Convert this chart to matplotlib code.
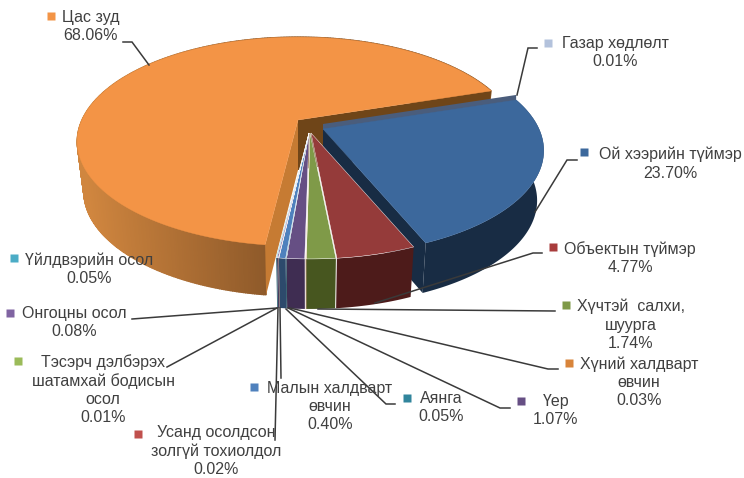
import numpy as np
import matplotlib
matplotlib.use("Agg")
import matplotlib.pyplot as plt
from matplotlib.colors import to_rgb

names = ["Газар хөдлөлт", "Ой хээрийн түймэр", "Объектын түймэр", "Хүчтэй  салхи,\nшуурга",
         "Хүний халдварт\nөвчин", "Үер", "Аянга", "Малын халдварт\nөвчин",
         "Усанд осолдсон\nзолгүй тохиолдол", "Тэсэрч дэлбэрэх\nшатамхай бодисын\nосол",
         "Онгоцны осол", "Үйлдвэрийн осол", "Цас зуд"]
values = [0.01, 23.70, 4.77, 1.74, 0.03, 1.07, 0.05, 0.40, 0.02, 0.01, 0.08, 0.05, 68.06]

top_colors = ["#4a5d7c", "#3c689c", "#953b3a", "#7f9a48", "#d8843a", "#664f84", "#31859c",
              "#4f81bd", "#c0504d", "#9bbb59", "#8064a2", "#4bacc6", "#f39446"]
wall_colors = ["#4a5d7c", "#182c44", "#4d1b1a", "#47561f", "#8a4d1c", "#3f2d52", "#1c4d5c",
               "#2d4a6c", "#6e2e2c", "#5a6d33", "#4a3a5e", "#2b6373", "#b06c2c"]
key_colors = ["#b3c2dc", "#3c689c", "#a83c3c", "#7f9a48", "#d8843a", "#664f84", "#31859c",
              "#4f81bd", "#c0504d", "#9bbb59", "#8064a2", "#4bacc6", "#f39446"]
# slice shift from the pie centre, pixels
shift_x = [13, 13, 1, 0, 0, -1, -1, -1, -1, -1, -1, -1, -12]
shift_y = [-9, -4, 0, 0, 0, 0, 0, 0, 0, 0, 0, 0, -13]

# label layout: square x, y, then text centre x and first line y
key_x = [548, 584, 553, 566, 569, 521, 407, 254, 138, 18, 10, 14, 51]
key_y = [43, 152, 247, 305, 363, 401, 398, 387, 434, 361, 313, 258, 16]
text_x = [615, 670, 630, 631, 639, 556, 441, 330, 216, 103, 74, 89, 91]
text_y = [43, 154, 248, 306, 363, 401, 398, 388, 432, 361, 313, 259, 17]
leaders = [
    [(537, 48), (528, 48), (517, 95)],
    [(577, 160), (567, 160), (535, 212)],
    [(542, 253), (533, 253), (375, 303)],
    [(555, 311), (318, 309)],
    [(558, 369), (548, 369), (290, 308)],
    [(510, 408), (500, 408), (288, 308)],
    [(395, 404), (386, 404), (286, 309)],
    [(281, 378), (280, 308)],
    [(275, 440), (278, 308)],
    [(167, 367), (277, 308)],
    [(132, 319), (277, 308)],
    [],
    [(123, 42), (132, 42), (149, 65)],
]

start_angle = 72
cx, cy = 310, 133
rx, ry = 216, 100
persp = 0.206
depth = 50


def project(theta, radius=1.0, dx=0, dy=0, z=0):
    t = np.radians(theta)
    u = radius * np.sin(t)
    v = radius * np.cos(t)
    s = 1 / (1 + persp * v)
    shrink = 1 - 0.03 * z / depth
    return cx + dx + rx * u * s * shrink, cy + dy - ry * v * s + z


def blend(a, b, f):
    a, b = np.array(to_rgb(a)), np.array(to_rgb(b))
    return tuple(a + (b - a) * f)


fig = plt.figure(figsize=(7.44, 4.78), dpi=100, facecolor="white")
ax = fig.add_axes([0, 0, 1, 1])
ax.set_xlim(0, 744)
ax.set_ylim(478, 0)
ax.axis("off")
plt.rcParams["font.family"] = ["Liberation Sans", "DejaVu Sans"]

edges = start_angle + np.concatenate([[0], np.cumsum(values)]) * 3.6
# far side first: snow, then quake, forest, and on leftwards across the front
order = [12, 0, 1, 2, 3, 4, 5, 6, 7, 8, 9, 10, 11]

for i in order:
    a, b = edges[i], edges[i + 1]
    dx, dy = shift_x[i], shift_y[i]
    arc = np.linspace(a, b, max(3, int(b - a) * 2))
    x0, y0 = project(arc, 1, dx, dy)
    x1, y1 = project(arc, 1, dx, dy, depth)

    if i == 12:
        # shaded outer wall of the big slice, darker towards the cut
        for j in range(len(arc) - 1):
            f = np.clip((x0[j] - 85) / 180, 0, 1)
            col = blend("#d0863f", "#8f5a2a", f)
            ax.fill([x0[j], x0[j + 1], x1[j + 1], x1[j]], [y0[j], y0[j + 1], y1[j + 1], y1[j]],
                    color=col, lw=1, zorder=1)
        # cut faces
        xa, ya = project(a, 1, dx, dy)
        xb, yb = project(a, 1, dx, dy, depth)
        ax.fill([cx + dx, xa, xb, cx + dx], [cy + dy, ya, yb, cy + dy + depth],
                color="#c67b33", lw=0, zorder=1)
        xa, ya = project(b, 1, dx, dy)
        xb, yb = project(b, 1, dx, dy, depth)
        ax.fill([cx + dx, xa, xb, cx + dx], [cy + dy, ya, yb, cy + dy + depth],
                color="#6f4518", lw=0, zorder=1)
    elif i == 0:
        xa, ya = project(a, 1, dx, dy)
        ax.fill([cx + dx, xa, xa, cx + dx], [cy + dy, ya, ya + 6, cy + dy + 6],
                color=top_colors[i], lw=0, zorder=2)
        continue
    else:
        z = 2 + order.index(i)
        ax.fill(np.r_[x0, x1[::-1]], np.r_[y0, y1[::-1]], color=wall_colors[i], lw=0, zorder=z)
        if i == 1:
            xa, ya = project(b, 1, dx, dy)
            xb, yb = project(b, 1, dx, dy, depth)
            ax.fill([cx + dx, xa, xb, cx + dx], [cy + dy, ya, yb, cy + dy + depth],
                    color=wall_colors[i], lw=0, zorder=z)

    z = 2 if i == 12 else 2 + order.index(i)
    ax.fill(np.r_[cx + dx, x0], np.r_[cy + dy, y0], color=top_colors[i],
            ec="white" if 2 <= i <= 11 else top_colors[i], lw=0.3, zorder=z)

for i in range(len(values)):
    if leaders[i]:
        xs, ys = zip(*leaders[i])
        ax.plot(xs, ys, color="#3a3a3a", lw=1.1, zorder=30, solid_joinstyle="miter")
    ax.plot(key_x[i], key_y[i], "s", ms=5.5, color=key_colors[i], mec="none", zorder=31)
    # one label block: name lines then the percentage
    lab = names[i] + f"\n{values[i]:.2f}%"
    ax.text(text_x[i], text_y[i] - 7, lab, ha="center", va="top", color="#404040",
            fontsize=11.5, linespacing=1.26, zorder=32)

fig.savefig("out.png", dpi=100, facecolor="white")
